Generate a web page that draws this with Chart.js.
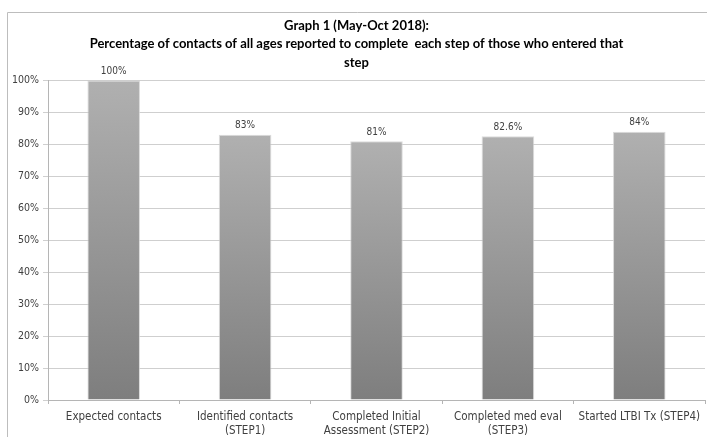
<!DOCTYPE html>
<html>
<head>
<meta charset="utf-8">
<script src="https://cdn.jsdelivr.net/npm/chart.js@4"></script>
<style>
  html, body { margin: 0; padding: 0; background: #fff; }
  #wrap { width: 707px; height: 437px; position: relative; }
</style>
</head>
<body>
<div id="wrap"><canvas id="c" width="707" height="437"></canvas></div>
<script>
// Care-cascade steps and share of contacts completing each one
const categories = [
  ["Expected contacts"],
  ["Identified contacts", "(STEP1)"],
  ["Completed Initial", "Assessment (STEP2)"],
  ["Completed med eval", "(STEP3)"],
  ["Started LTBI Tx (STEP4)"]
];
const percentages = [100, 83, 81, 82.6, 84];
const valueLabels = ["100%", "83%", "81%", "82.6%", "84%"];
const titleLines = [
  "Graph 1 (May-Oct 2018):",
  "Percentage of contacts of all ages reported to complete  each step of those who entered that",
  "step"
];

const FONT = "'DejaVu Sans Condensed', Lato, sans-serif";
const TITLE_FONT = "Lato, 'DejaVu Sans Condensed', sans-serif";

// vertical grey gradient for each bar, light at the top, darker at the base
function barFill(ctx) {
  const chart = ctx.chart;
  const y = chart.scales.y;
  if (!y || !chart.chartArea) return '#999';
  const top = y.getPixelForValue(ctx.raw);
  const base = y.getPixelForValue(0);
  if (!isFinite(top) || !isFinite(base) || top === base) return '#999';
  const g = chart.ctx.createLinearGradient(0, top, 0, base);
  g.addColorStop(0, '#b0b0b0');
  g.addColorStop(1, '#7e7e7e');
  return g;
}

// thin outer frame round the whole chart
const framePlugin = {
  id: 'frame',
  beforeDraw(chart) {
    const c = chart.ctx;
    c.save();
    c.strokeStyle = '#bdbdbd';
    c.lineWidth = 1;
    c.beginPath();
    c.moveTo(710, 12.5);
    c.lineTo(7.5, 12.5);
    c.lineTo(7.5, 440);
    c.stroke();
    c.restore();
  }
};

// value text above every bar
const valuePlugin = {
  id: 'values',
  afterDatasetsDraw(chart) {
    const c = chart.ctx;
    const meta = chart.getDatasetMeta(0);
    c.save();
    c.font = "10px " + FONT;
    c.fillStyle = '#404040';
    c.textAlign = 'center';
    c.textBaseline = 'bottom';
    meta.data.forEach((bar, i) => {
      c.fillText(valueLabels[i], bar.x, bar.y - 4);
    });
    c.restore();
  }
};

new Chart(document.getElementById('c'), {
  type: 'bar',
  data: {
    labels: categories,
    datasets: [{
      data: percentages,
      backgroundColor: barFill,
      borderColor: 'rgba(210,210,210,0.8)',
      borderWidth: 1,
      categoryPercentage: 0.8,
      barPercentage: 0.5
    }]
  },
  options: {
    responsive: false,
    animation: false,
    events: [],
    layout: { padding: { left: 8, right: 2, top: 14, bottom: 0 } },
    plugins: {
      legend: { display: false },
      tooltip: { enabled: false },
      title: {
        display: true,
        text: titleLines,
        color: '#000',
        font: { family: TITLE_FONT, size: 13, weight: 'bold', lineHeight: 1.45 },
        padding: { top: 2, bottom: 8 }
      }
    },
    scales: {
      x: {
        afterFit(scale) { scale.height = 37; },
        grid: {
          display: true,
          offset: true,
          drawOnChartArea: false,
          drawTicks: true,
          tickLength: 4,
          color: '#b5b5b5'
        },
        border: { display: true, color: '#b5b5b5' },
        ticks: {
          color: '#404040',
          font: { family: FONT, size: 11.5, lineHeight: 1.2 },
          maxRotation: 0,
          autoSkip: false,
          padding: 6
        }
      },
      y: {
        min: 0,
        max: 100,
        afterFit(scale) { scale.width = 40; },
        grid: {
          color: '#cfcfcf',
          tickLength: 5,
          drawTicks: true
        },
        border: { display: true, color: '#b5b5b5' },
        ticks: {
          stepSize: 10,
          color: '#404040',
          font: { family: FONT, size: 10.5 },
          padding: 4,
          callback: v => v + '%'
        }
      }
    }
  },
  plugins: [framePlugin, valuePlugin]
});
</script>
</body>
</html>
